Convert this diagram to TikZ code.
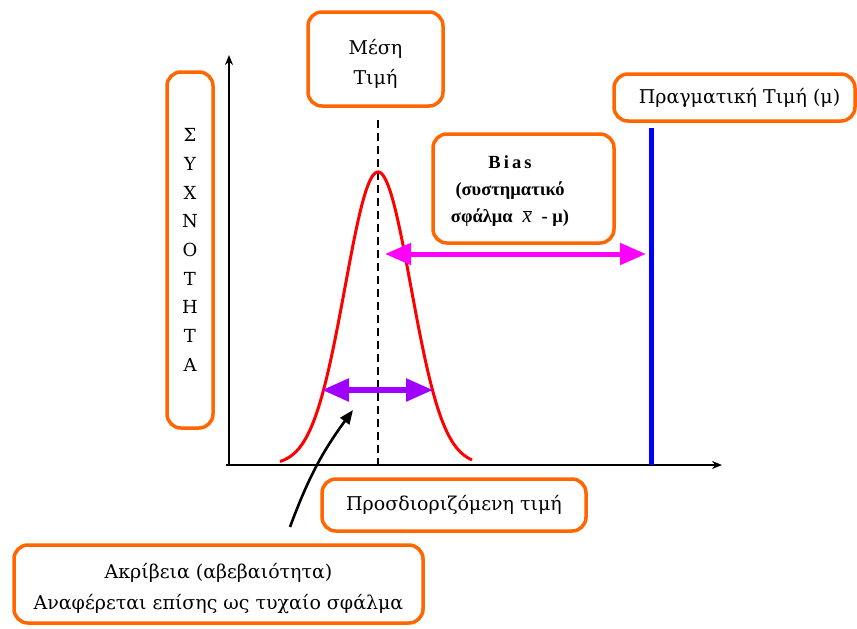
\documentclass[tikz,border=0pt]{standalone}
\usepackage{fontspec}
\setmainfont{DejaVu Serif}
\newfontfamily\biasfont{Liberation Serif}
\usetikzlibrary{arrows.meta}
\definecolor{boxorange}{RGB}{255,102,0}
\definecolor{biasmag}{RGB}{255,0,255}
\definecolor{spreadviolet}{RGB}{160,0,255}
\definecolor{truthblue}{RGB}{0,0,255}
\begin{document}
\begin{tikzpicture}[x=1pt,y=-1pt,
  lbl/.style={draw=boxorange, line width=3.5pt, rounded corners=14pt,
    fill=white, align=center, inner sep=0pt,
    font=\fontsize{19}{30}\selectfont},
  axisline/.style={line width=2.2pt, -{Stealth[length=10pt,width=8pt]}},
  spread/.style={line width=5.5pt, spreadviolet,
    {Triangle[length=27pt,width=22pt]}-{Triangle[length=27pt,width=22pt]}},
  biasarrow/.style={line width=5pt, biasmag,
    {Triangle[length=26pt,width=21pt]}-{Triangle[length=26pt,width=21pt]}},
  pointer/.style={line width=2.6pt, -{Triangle[length=14pt,width=11pt]}},
]
\useasboundingbox (0,0) rectangle (857,629);

% axes
\coordinate (origin) at (229,465);
\coordinate (ytop) at (229,55);
\coordinate (xend) at (722,465);
\draw[axisline] (origin) -- (ytop);
\draw[axisline] (226,465) -- (xend);

% mean value line
\coordinate (meantop) at (378,120);
\coordinate (meanfoot) at (378,465);
\draw[line width=2pt, dash pattern=on 8pt off 5pt] (meantop) -- (meanfoot);

% distribution of measured values
\draw[red, line width=3pt, domain=-98:94, samples=120, smooth]
  plot ({378+\x}, {465-293*exp(-(\x*\x)/(2*33*33))});

% true value
\coordinate (truetop) at (651,128);
\coordinate (truefoot) at (651,465);
\draw[truthblue, line width=5pt] (truetop) -- (truefoot);

% labels
\node[lbl, minimum width=135pt, minimum height=94pt] (mean) at (375.5,59)
  {\rule{0pt}{24pt}Μέση\\Τιμή};
\node[lbl, minimum width=46pt, minimum height=356pt,
  font=\fontsize{18}{28.7}\selectfont] (freq) at (190,250)
  {Σ\\Υ\\Χ\\Ν\\Ο\\Τ\\Η\\Τ\\Α};
\node[lbl, minimum width=241pt, minimum height=47pt] (truth) at (734.5,97.5)
  {\hspace*{10pt}Πραγματική Τιμή (μ)};
\node[lbl, minimum width=181pt, minimum height=109pt] (biasbox) at (523.5,188.5) {};
\node[align=center, font=\biasfont\bfseries\fontsize{18.5}{27}\selectfont] (biastext)
  at (510,191) {B\,i\,a\,s\\(συστηματικό\\σφάλμα\; $\overline{\mbox{\biasfont\mdseries\itshape\fontsize{21}{21}\selectfont x}}$\; - μ)};
\node[lbl, minimum width=264pt, minimum height=52pt] (measured) at (454,505) {Προσδιοριζόμενη τιμή};
\node[lbl, minimum width=409pt, minimum height=78pt,
  font=\fontsize{19}{31}\selectfont] (precision) at (218.5,584)
  {\rule{0pt}{25pt}Ακρίβεια (αβεβαιότητα)\\Αναφέρεται επίσης ως τυχαίο σφάλμα};

% arrows
\coordinate (spreadL) at (322,390);
\coordinate (spreadR) at (433,390);
\draw[spread] (spreadL) -- (spreadR);
\coordinate (biasL) at (385,254);
\coordinate (biasR) at (646,254);
\draw[biasarrow] (biasL) -- (biasR);
\coordinate (ptail) at (290,527);
\coordinate (ptip) at (353,410);
\draw[pointer] (ptail) to[bend left=8] (ptip);
\end{tikzpicture}
\end{document}
